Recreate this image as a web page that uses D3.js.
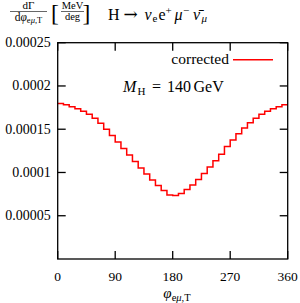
<!DOCTYPE html>
<html>
<head>
<meta charset="utf-8">
<script src="https://cdn.jsdelivr.net/npm/d3@7"></script>
<style>
  body { margin: 0; background: #fff; }
  text { font-family: "Liberation Serif", "DejaVu Serif", serif; fill: #000; }
</style>
</head>
<body>
<div id="chart"></div>
<script>
// histogram of dGamma/dphi, 40 bins of 9 degrees each
const binWidth = 9
const corrected = [
  0.0001798, 0.0001782, 0.0001761, 0.0001738, 0.0001709, 0.0001674, 0.0001628, 0.0001570,
  0.0001501, 0.0001426, 0.0001351, 0.0001276, 0.0001201, 0.0001126, 0.0001051, 0.0000981,
  0.0000912, 0.0000849, 0.0000791, 0.0000739, 0.0000733, 0.0000756, 0.0000803, 0.0000854,
  0.0000918, 0.0000987, 0.0001062, 0.0001137, 0.0001212, 0.0001300, 0.0001375, 0.0001449,
  0.0001513, 0.0001576, 0.0001628, 0.0001674, 0.0001709, 0.0001738, 0.0001761, 0.0001784
]
const xTicks = [0, 90, 180, 270, 360]
const yTicks = [0.00005, 0.0001, 0.00015, 0.0002, 0.00025]
const yTickLabels = ["0.00005", "0.0001", "0.00015", "0.0002", "0.00025"]

const WIDTH = 300
const HEIGHT = 303
const margin = {left: 57.7, right: 12.3, top: 42.7, bottom: 44}

const svg = d3.select("#chart").append("svg")
  .attr("width", WIDTH)
  .attr("height", HEIGHT)

const x = d3.scaleLinear().domain([0, 360]).range([margin.left, WIDTH - margin.right])
const y = d3.scaleLinear().domain([0, 0.00025]).range([HEIGHT - margin.bottom, margin.top])

// step line: each bin value held from its left edge to the right edge
const pts = corrected.map((v, i) => [i * binWidth, v])
pts.push([360, corrected[corrected.length - 1]])
const line = d3.line().x(d => x(d[0])).y(d => y(d[1])).curve(d3.curveStepAfter)

svg.append("path")
  .datum(pts)
  .attr("d", line)
  .attr("fill", "none")
  .attr("stroke", "#ff0000")
  .attr("stroke-width", 1.5)

// frame with inward ticks on all sides
const g = svg.append("g").attr("stroke", "#000").attr("stroke-width", 1.3)
g.append("rect")
  .attr("x", x(0)).attr("y", y(0.00025))
  .attr("width", x(360) - x(0)).attr("height", y(0) - y(0.00025))
  .attr("fill", "none")

const tl = 8
xTicks.forEach(t => {
  g.append("line").attr("x1", x(t)).attr("x2", x(t)).attr("y1", y(0)).attr("y2", y(0) - tl)
  g.append("line").attr("x1", x(t)).attr("x2", x(t)).attr("y1", y(0.00025)).attr("y2", y(0.00025) + tl)
})
yTicks.forEach(t => {
  g.append("line").attr("x1", x(0)).attr("x2", x(0) + tl).attr("y1", y(t)).attr("y2", y(t))
  g.append("line").attr("x1", x(360)).attr("x2", x(360) - tl).attr("y1", y(t)).attr("y2", y(t))
})

// tick labels
svg.selectAll(".xl").data(xTicks).enter().append("text")
  .attr("x", d => x(d)).attr("y", y(0) + 21.8)
  .attr("text-anchor", "middle").attr("font-size", 13.5)
  .text(d => d)

svg.selectAll(".yl").data(yTicks).enter().append("text")
  .attr("x", x(0) - 7).attr("y", d => y(d) + 4.5)
  .attr("text-anchor", "end").attr("font-size", 14)
  .text((d, i) => yTickLabels[i])

// x axis label
const xl = svg.append("text").attr("x", 177).attr("y", 297.5).attr("text-anchor", "middle").attr("font-size", 15)
xl.append("tspan").attr("font-style", "italic").text("φ")
xl.append("tspan").attr("font-size", 10.5).attr("dy", 3).text("e")
xl.append("tspan").attr("font-size", 10.5).attr("font-style", "italic").text("μ")
xl.append("tspan").attr("font-size", 10.5).text(",T")

// y label: dGamma/dphi [MeV/deg]
svg.append("text").attr("x", 28.5).attr("y", 9).attr("text-anchor", "middle").attr("font-size", 11).text("dΓ")
svg.append("line").attr("x1", 10).attr("x2", 47).attr("y1", 11.5).attr("y2", 11.5).attr("stroke", "#000").attr("stroke-width", 0.6)
const den = svg.append("text").attr("x", 28.5).attr("y", 20.5).attr("text-anchor", "middle").attr("font-size", 11.5)
den.append("tspan").text("d")
den.append("tspan").attr("font-style", "italic").text("φ")
den.append("tspan").attr("font-size", 8.5).attr("dy", 2).text("e")
den.append("tspan").attr("font-size", 8.5).attr("font-style", "italic").text("μ")
den.append("tspan").attr("font-size", 8.5).text(",T")

svg.append("text").attr("x", 51).attr("y", 21).attr("font-size", 23.5).text("[")
svg.append("text").attr("x", 82.5).attr("y", 21).attr("font-size", 23.5).text("]")
svg.append("text").attr("x", 72.5).attr("y", 9).attr("text-anchor", "middle").attr("font-size", 10.5).text("MeV")
svg.append("line").attr("x1", 61).attr("x2", 84).attr("y1", 11.5).attr("y2", 11.5).attr("stroke", "#000").attr("stroke-width", 0.6)
svg.append("text").attr("x", 72.5).attr("y", 19.5).attr("text-anchor", "middle").attr("font-size", 10.5).text("deg")

// process title
const tt = svg.append("text").attr("y", 19.5).attr("font-size", 16)
tt.append("tspan").attr("x", 108).text("H")
tt.append("tspan").attr("x", 123.5).attr("font-family", "DejaVu Serif").attr("font-size", 17).text("→")
tt.append("tspan").attr("x", 144.5).attr("font-style", "italic").text("ν")
tt.append("tspan").attr("x", 152.5).attr("font-size", 11).attr("dy", 2.5).text("e")
tt.append("tspan").attr("x", 158.5).attr("dy", -2.5).text("e")
tt.append("tspan").attr("x", 165.5).attr("font-size", 11).attr("dy", -6).text("+")
tt.append("tspan").attr("x", 174.5).attr("font-style", "italic").attr("dy", 6).text("μ")
tt.append("tspan").attr("x", 183).attr("font-size", 11).attr("dy", -6).text("−")
tt.append("tspan").attr("x", 193).attr("font-style", "italic").attr("dy", 6).text("ν̄")
tt.append("tspan").attr("x", 201.5).attr("font-size", 11).attr("font-style", "italic").attr("dy", 2.5).text("μ")

// mass label
const ml = svg.append("text").attr("y", 92).attr("font-size", 16)
ml.append("tspan").attr("x", 123).attr("font-style", "italic").text("M")
ml.append("tspan").attr("x", 137.5).attr("font-size", 11).attr("dy", 2.5).text("H")
ml.append("tspan").attr("x", 152).attr("dy", -2.5).text("=")
ml.append("tspan").attr("x", 167).text("140")
ml.append("tspan").attr("x", 193.5).text("GeV")

// legend
svg.append("text").attr("x", 229).attr("y", 64).attr("text-anchor", "end").attr("font-size", 15.5).text("corrected")
svg.append("line").attr("x1", 233).attr("x2", 273).attr("y1", y(0.00025) + 17).attr("y2", y(0.00025) + 17)
  .attr("stroke", "#ff0000").attr("stroke-width", 1.5)
</script>
</body>
</html>
